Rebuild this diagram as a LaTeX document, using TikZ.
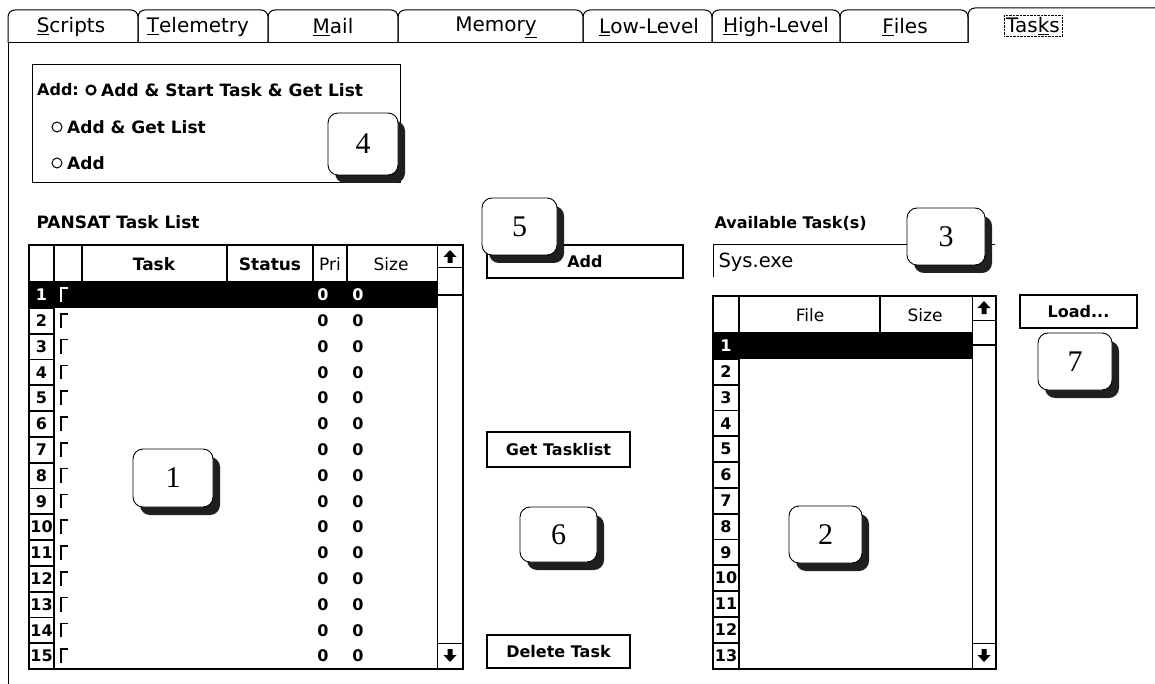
\documentclass[tikz,border=0pt]{standalone}
\usepackage{fontspec}
\setmainfont{DejaVu Sans}
\newfontfamily\callfont{Liberation Serif}
\usetikzlibrary{shadows}

\begin{document}
\begin{tikzpicture}[x=1pt,y=-1pt,
	tablbl/.style={font=\fontsize{20}{24}\selectfont},
	lbl/.style={anchor=west,font=\fontsize{16}{19}\selectfont\bfseries},
	optlbl/.style={anchor=west,inner sep=0pt,font=\fontsize{17}{20}\selectfont\bfseries},
	btn/.style={draw,line width=1.2pt,inner sep=0pt,font=\fontsize{16}{19}\selectfont\bfseries},
	hdr/.style={font=\fontsize{17}{20}\selectfont},
	num/.style={inner sep=0pt,font=\fontsize{16}{18}\selectfont\bfseries},
	thickline/.style={line width=1.8pt},
	callout/.style={draw,fill=white,line width=0.9pt,rounded corners=10pt,
		minimum width=76pt,minimum height=57pt,inner sep=0pt,
		font=\callfont\fontsize{30}{30}\selectfont,
		general shadow={fill=black!88,shadow xshift=7pt,shadow yshift=-8pt}}]
	\useasboundingbox[fill=white] (0,0) rectangle (1155,684);

	% tab row
	\foreach \a/\b in {8/138,138/268,268/398,398/583,583/712,712/840,840/968}
		\draw[line width=1pt,rounded corners=7pt] (\a,43) -- (\a,10) -- (\b,10) -- (\b,43);
	\draw[line width=1pt,rounded corners=7pt] (968,43) -- (968,8) -- (1170,8);
	\draw[line width=1pt] (8,43) -- (968,43);
	\draw[line width=1pt] (8,43) -- (8,684);

	\node[tablbl] (tscripts) at (71,27) {\underline{S}cripts};
	\node[tablbl] (ttelem) at (198,27) {\underline{T}elemetry};
	\node[tablbl] (tmail) at (333,27) {\underline{M}ail};
	\node[tablbl] (tmemory) at (496,27) {Memor\underline{y}};
	\node[tablbl] (tlow) at (649,27) {\underline{L}ow-Level};
	\node[tablbl] (thigh) at (776,27) {\underline{H}igh-Level};
	\node[tablbl] (tfiles) at (905,27) {\underline{F}iles};
	\node[tablbl,draw,densely dotted,inner sep=2pt] (ttasks) at (1033,26) {Tas\underline{k}s};

	% add options
	\draw[line width=1pt] (32,65) rectangle (400,183);
	\node[optlbl,font=\fontsize{16}{19}\selectfont\bfseries] (addlbl) at (37,90) {Add:};
	\draw[line width=2.2pt] (91,90) circle (4.5);
	\draw[line width=1pt] (57,127) circle (5);
	\draw[line width=1pt] (57,163) circle (5);
	\node[optlbl] (optone) at (101,90) {Add \& Start Task \& Get List};
	\node[optlbl] (opttwo) at (67,127) {Add \& Get List};
	\node[optlbl] (optthree) at (67,163) {Add};

	% task list
	\node[lbl,font=\fontsize{17}{20}\selectfont\bfseries] (tasklbl) at (33,222) {PANSAT Task List};
	\fill (29,282) rectangle (437,308);
	\draw[thickline] (29,245) rectangle (463,669);
	\draw[thickline] (29,282) -- (437,282);
	\foreach \x in {54,82,227,313,347}
		\draw[thickline] (\x,245) -- (\x,282);
	\draw[line width=1pt] (437,245) -- (437,669);
	\draw[line width=1pt] (437,268) -- (463,268);
	\draw[thickline] (437,295) -- (463,295);
	\draw[line width=1pt] (437,643) -- (463,643);
	\fill (450,250) -- (456.5,257) -- (452.5,257) -- (452.5,263) -- (447.5,263) -- (447.5,257) -- (443.5,257) -- cycle;
	\fill (450,662) -- (456.5,655) -- (452.5,655) -- (452.5,649) -- (447.5,649) -- (447.5,655) -- (443.5,655) -- cycle;
	\node[hdr,font=\fontsize{17}{20}\selectfont\bfseries] (htask) at (154,264) {Task};
	\node[hdr,font=\fontsize{17}{20}\selectfont\bfseries] (hstatus) at (270,264) {Status};
	\node[hdr] (hpri) at (330,264) {Pri};
	\node[hdr] (hsize) at (391,264) {Size};
	\foreach \i in {1,...,15}
		\draw[thickline] (29,{256.2+25.8*\i}) rectangle (54,{282+25.8*\i});
	\node[num,text=white] (tn1) at (41.5,295) {1};
	\draw[white,line width=1.6pt] (61,302) -- (61,288) -- (68,288);
	\node[num,text=white] (tp1) at (323,295) {0};
	\node[num,text=white] (ts1) at (358,295) {0};
	\foreach \i in {2,...,15} {
		\node[num] (tn\i) at (41.5,{269.1+25.8*\i}) {\i};
		\draw[line width=1.6pt] (61,{276.1+25.8*\i}) -- (61,{262.1+25.8*\i}) -- (68,{262.1+25.8*\i});
		\node[num] (tp\i) at (323,{269.1+25.8*\i}) {0};
		\node[num] (ts\i) at (358,{269.1+25.8*\i}) {0};
	}

	% buttons
	\node[btn,minimum width=196pt,minimum height=33pt] (addbtn) at (585,261.5) {Add};
	\node[btn,minimum width=143pt,minimum height=35pt] (getbtn) at (558.5,449.5) {Get Tasklist};
	\node[btn,minimum width=143pt,minimum height=33pt] (delbtn) at (558.5,651.5) {Delete Task};
	\node[btn,minimum width=117pt,minimum height=33pt] (loadbtn) at (1078.5,311.5) {Load...};

	% available tasks
	\node[lbl] (availlbl) at (711,223) {Available Task(s)};
	\draw[line width=1pt] (713,277) -- (713,245) -- (995,245);
	\node[anchor=west,font=\fontsize{19.5}{22}\selectfont] (sysexe) at (715,262) {Sys.exe};

	% file list
	\fill (713,333) rectangle (972,359);
	\draw[thickline] (713,296) rectangle (996,669);
	\draw[thickline] (713,333) -- (972,333);
	\foreach \x in {739,880}
		\draw[thickline] (\x,296) -- (\x,333);
	\draw[line width=1pt] (972,296) -- (972,669);
	\draw[line width=1pt] (972,320) -- (996,320);
	\draw[thickline] (972,345) -- (996,345);
	\draw[line width=1pt] (972,643) -- (996,643);
	\fill (984,301) -- (990.5,308) -- (986.5,308) -- (986.5,314) -- (981.5,314) -- (981.5,308) -- (977.5,308) -- cycle;
	\fill (984,662) -- (990.5,655) -- (986.5,655) -- (986.5,649) -- (981.5,649) -- (981.5,655) -- (977.5,655) -- cycle;
	\node[hdr] (hfile) at (810,315) {File};
	\node[hdr] (hfsize) at (925,315) {Size};
	\foreach \i in {1,...,13}
		\draw[thickline] (713,{307.2+25.8*\i}) rectangle (739,{333+25.8*\i});
	\node[num,text=white] (fn1) at (726,346) {1};
	\foreach \i in {2,...,13}
		\node[num] (fn\i) at (726,{320.1+25.8*\i}) {\i};

	% callouts
	\node[callout,minimum width=80pt,minimum height=58pt] (c1) at (173,478) {1};
	\node[callout,minimum width=73pt] (c2) at (825.5,534.5) {2};
	\node[callout,minimum width=78pt] (c3) at (946,236.5) {3};
	\node[callout,minimum width=70pt,minimum height=62pt] (c4) at (363,144) {4};
	\node[callout,minimum width=75pt] (c5) at (519.5,226.5) {5};
	\node[callout,minimum width=77pt,minimum height=55pt] (c6) at (558.5,534.5) {6};
	\node[callout,minimum width=74pt] (c7) at (1075,361.5) {7};
\end{tikzpicture}
\end{document}
